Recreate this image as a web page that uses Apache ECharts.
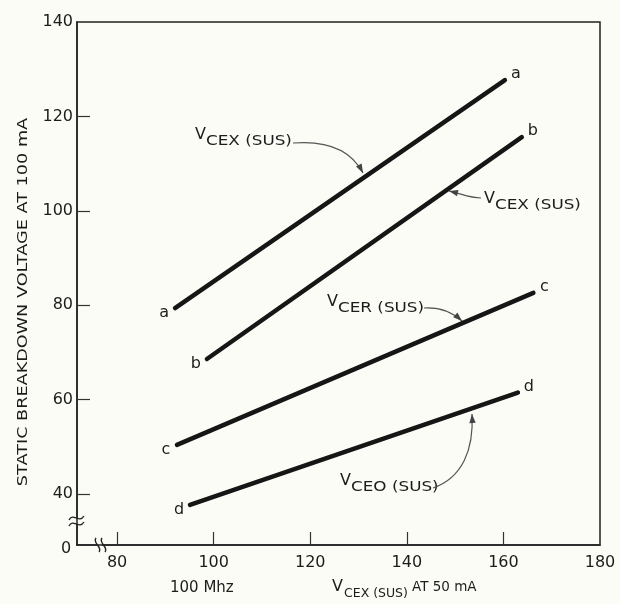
<!DOCTYPE html>
<html><head><meta charset="utf-8">
<script src="https://cdn.jsdelivr.net/npm/echarts@6/dist/echarts.min.js"></script>
<style>html,body{margin:0;padding:0;background:#fbfcf5}#c{width:620px;height:604px}</style>
</head><body><div id="c"></div>
<script>
// ---- data ----
const curveNames = ['a', 'b', 'c', 'd'];
const startX = [92.0, 98.6, 92.4, 95.1];
const startY = [79.4, 68.6, 50.4, 37.7];
const endX   = [160.3, 163.8, 166.2, 163.0];
const endY   = [127.7, 115.6, 82.6, 61.5];
const xTicks = [80, 100, 120, 140, 160, 180];
const yTicks = [40, 60, 80, 100, 120, 140];

const FONT = 'DejaVu Sans';
const INK = '#161616';
const TXT = '#1c1c1c';

const chart = echarts.init(document.getElementById('c'), null, {renderer: 'canvas'});

const series = curveNames.map((n, i) => ({
  type: 'line',
  name: n,
  symbol: 'circle',
  symbolSize: 2,
  silent: true,
  animation: false,
  lineStyle: {color: INK, width: 4.5, cap: 'round'},
  itemStyle: {color: INK},
  label: {show: true, formatter: n, position: 'inside', color: TXT, fontFamily: FONT, fontSize: 16},
  data: [
    {value: [startX[i], startY[i]], label: {offset: [-11, 5]}},
    {value: [endX[i], endY[i]], label: {offset: [11, -6]}}
  ]
}));

const option = {
  backgroundColor: '#fbfcf5',
  animation: false,
  grid: {left: 77, right: 20, top: 22, bottom: 59, show: true, borderColor: '#222', borderWidth: 1.5, backgroundColor: 'transparent'},
  xAxis: {
    type: 'value', min: 71.7, max: 180,
    axisLine: {show: true, lineStyle: {color: '#222', width: 1.5}},
    axisTick: {show: true, inside: true, length: 13, customValues: xTicks.slice(0, 5), lineStyle: {color: '#333', width: 1.2}},
    axisLabel: {show: true, customValues: xTicks, margin: 10, color: TXT, fontFamily: FONT, fontSize: 16},
    splitLine: {show: false}
  },
  yAxis: {
    type: 'value', min: 29.2, max: 140,
    axisLine: {show: true, lineStyle: {color: '#222', width: 1.5}},
    axisTick: {show: true, inside: true, length: 13, customValues: yTicks.slice(0, 5), lineStyle: {color: '#333', width: 1.2}},
    axisLabel: {show: true, customValues: yTicks, margin: 4, color: TXT, fontFamily: FONT, fontSize: 16},
    splitLine: {show: false}
  },
  series: series
};
chart.setOption(option);

// ---- annotations ----
const g = [];
function txt(x, y, s, size, sx, extra) {
  g.push(Object.assign({type: 'text', x: x, y: y, scaleX: sx || 1, silent: true,
    style: {text: s, fill: TXT, font: size + 'px "' + FONT + '"', textVerticalAlign: 'top'}}, extra || {}));
}
function vlabel(x, y, sub) {
  txt(x, y, 'V', 16);
  txt(x + 11, y + 7, sub, 14, 1.2);
}
function arrow(p0, c1, c2, p1) {
  g.push({type: 'bezierCurve', silent: true,
    shape: {x1: p0[0], y1: p0[1], cpx1: c1[0], cpy1: c1[1], cpx2: c2[0], cpy2: c2[1], x2: p1[0], y2: p1[1]},
    style: {stroke: '#555', lineWidth: 1.2, fill: null}});
  const dx = p1[0] - c2[0], dy = p1[1] - c2[1];
  const L = Math.hypot(dx, dy), ux = dx / L, uy = dy / L;
  const len = 9, w = 3.2;
  const bx = p1[0] - ux * len, by = p1[1] - uy * len;
  g.push({type: 'polygon', silent: true,
    shape: {points: [[p1[0], p1[1]], [bx - uy * w, by + ux * w], [bx + uy * w, by - ux * w]]},
    style: {fill: '#444'}});
}

vlabel(195, 127, 'CEX (SUS)');
arrow([293, 143], [330, 140], [352, 152], [363, 173]);

vlabel(484, 191, 'CEX (SUS)');
arrow([481, 198], [470, 198], [462, 194], [449, 191]);

vlabel(327, 294, 'CER (SUS)');
arrow([424, 308], [440, 307], [452, 312], [462, 321]);

vlabel(340, 473, 'CEO (SUS)');
arrow([433, 488], [462, 478], [474, 450], [472, 414]);

// axis titles
g.push({type: 'text', x: 23, y: 302, rotation: Math.PI / 2, scaleX: 1.26, silent: true,
  style: {text: 'STATIC BREAKDOWN VOLTAGE AT 100 mA', fill: TXT, font: '14px "' + FONT + '"', textAlign: 'center', textVerticalAlign: 'middle'}});
txt(170, 581, '100 Mhz', 15);
txt(332, 579, 'V', 16);
txt(344, 587, 'CEX (SUS)', 12.5);
txt(412, 580, 'AT 50 mA', 13.5);

// origin "0"
txt(61, 541, '0', 16);

// axis breaks
function maskRect(x, y, w, h) {
  g.push({type: 'rect', silent: true, shape: {x: x, y: y, width: w, height: h}, style: {fill: '#fbfcf5'}});
}
function wave(x1, y1, x2, y2, c1, c2) {
  g.push({type: 'bezierCurve', silent: true,
    shape: {x1: x1, y1: y1, cpx1: c1[0], cpy1: c1[1], cpx2: c2[0], cpy2: c2[1], x2: x2, y2: y2},
    style: {stroke: '#222', lineWidth: 1.4, fill: null}});
}
maskRect(73, 518, 8, 6);
wave(69, 520, 84, 516, [73, 512], [79, 524]);
wave(69, 526, 84, 522, [73, 518], [79, 530]);
maskRect(97, 542, 5, 7);
wave(96, 538, 99, 552, [92, 543], [103, 547]);
wave(102, 538, 105, 552, [98, 543], [109, 547]);

chart.setOption({graphic: {elements: g}});
</script>
</body></html>
